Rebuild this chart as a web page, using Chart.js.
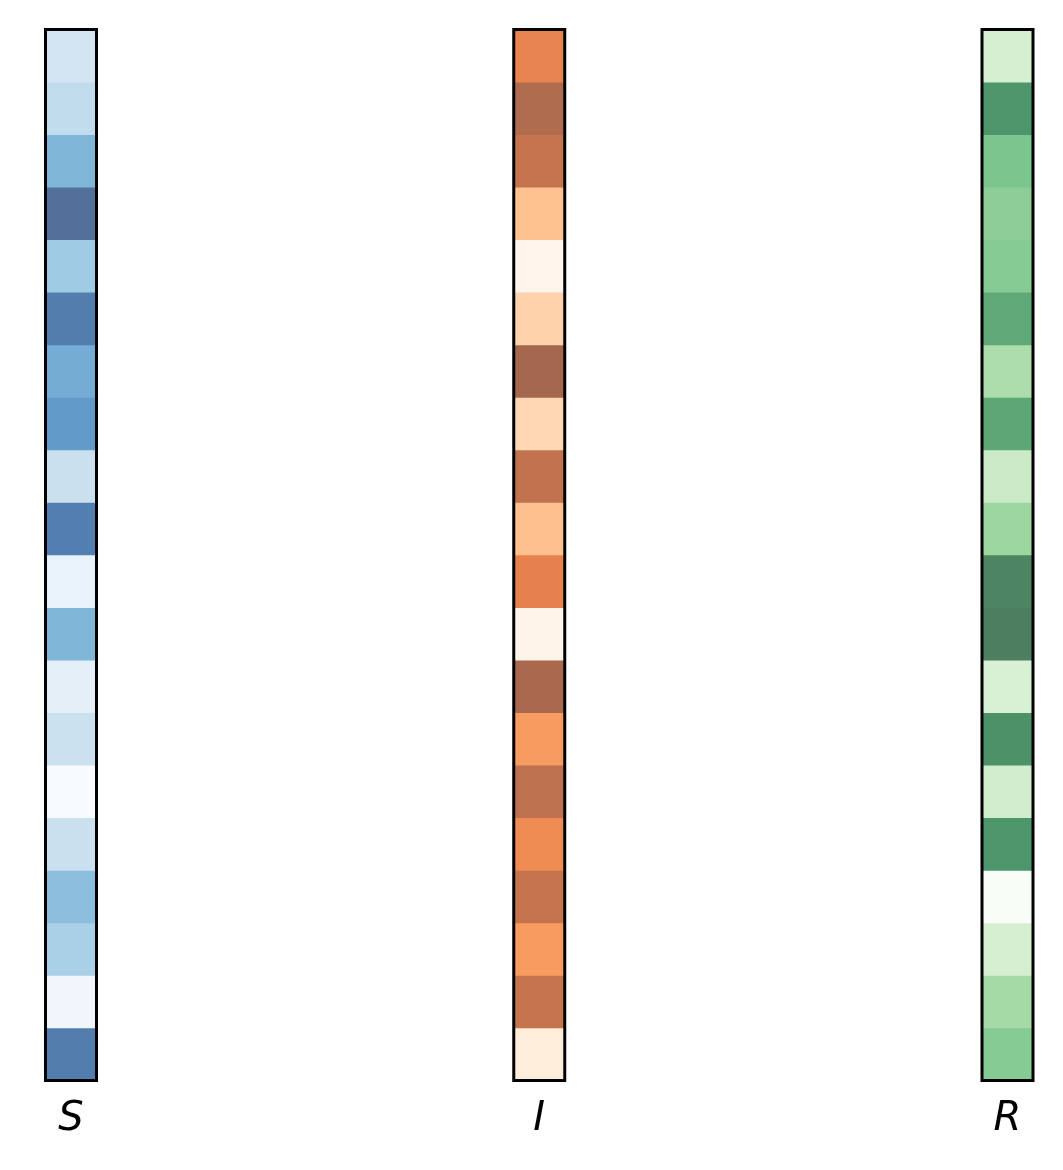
<!DOCTYPE html>
<html>
<head>
<meta charset="utf-8">
<script src="https://cdn.jsdelivr.net/npm/chart.js@4"></script>
<style>
  html, body { margin: 0; padding: 0; background: #ffffff; }
  #wrap { width: 1063px; height: 1170px; position: relative; }
</style>
</head>
<body>
<div id="wrap"><canvas id="c"></canvas></div>
<script>
// ---- data ----
const categories = ['S', 'I', 'R'];
// values in [0, 1], top cell first
const sValues = [0.27, 0.35, 0.60, 0.99, 0.47, 0.92, 0.66, 0.76, 0.31, 0.91,
                 0.12, 0.60, 0.15, 0.30, 0.02, 0.31, 0.55, 0.44, 0.07, 0.92];
const iValues = [0.72, 0.95, 0.86, 0.40, 0.03, 0.31, 1.00, 0.28, 0.875, 0.41,
                 0.74, 0.05, 0.98, 0.60, 0.89, 0.68, 0.86, 0.60, 0.86, 0.13];
const rValues = [0.26, 0.89, 0.62, 0.56, 0.58, 0.78, 0.44, 0.79, 0.31, 0.50,
                 0.96, 0.99, 0.25, 0.91, 0.28, 0.89, 0.01, 0.26, 0.47, 0.58];

// ---- colormaps (matplotlib Blues / Oranges / Greens stops) ----
const BLUES   = ['#f7fbff','#deebf7','#c6dbef','#9ecae1','#6baed6','#4292c6','#2171b5','#08519c','#08306b'];
const ORANGES = ['#fff5eb','#fee6ce','#fdd0a2','#fdae6b','#fd8d3c','#f16913','#d94801','#a63603','#7f2704'];
const GREENS  = ['#f7fcf5','#e5f5e0','#c7e9c0','#a1d99b','#74c476','#41ab5d','#238b45','#006d2c','#00441b'];
const ALPHA = 0.7;

function hexToRgb(h) {
  return [parseInt(h.slice(1,3),16), parseInt(h.slice(3,5),16), parseInt(h.slice(5,7),16)];
}
// colormap lookup, blended at ALPHA over white (opaque result, so no seams)
function cmap(stops, v) {
  v = Math.max(0, Math.min(1, v));
  const n = stops.length - 1;
  const p = v * n;
  const i = Math.min(Math.floor(p), n - 1);
  const t = p - i;
  const a = hexToRgb(stops[i]), b = hexToRgb(stops[i+1]);
  const c = a.map((x, k) => Math.round((x + (b[k] - x) * t) * ALPHA + 255 * (1 - ALPHA)));
  return `rgb(${c[0]},${c[1]},${c[2]})`;
}

const columns = [
  { values: sValues, stops: BLUES },
  { values: iValues, stops: ORANGES },
  { values: rValues, stops: GREENS }
];
const nRows = sValues.length;

// one dataset per row: floating bar [row, row+1] in each column
const datasets = [];
for (let r = 0; r < nRows; r++) {
  datasets.push({
    data: categories.map(() => [r, r + 1]),
    backgroundColor: columns.map(col => cmap(col.stops, col.values[r])),
    borderWidth: 0,
    barThickness: 51,
    grouped: false,
    clip: false
  });
}

const BAR_HALF = 25.5;
const framePlugin = {
  id: 'frame',
  afterDatasetsDraw(chart) {
    const ctx = chart.ctx, xs = chart.scales.x, ys = chart.scales.y;
    const yTop = ys.getPixelForValue(0), yBot = ys.getPixelForValue(nRows);
    ctx.save();
    ctx.strokeStyle = '#000000';
    ctx.lineWidth = 3;
    categories.forEach((c, i) => {
      const xc = xs.getPixelForValue(i);
      ctx.strokeRect(xc - BAR_HALF, yTop, 2 * BAR_HALF, yBot - yTop);
    });
    ctx.restore();
  }
};

new Chart(document.getElementById('c'), {
  type: 'bar',
  data: { labels: categories, datasets },
  options: {
    responsive: true,
    maintainAspectRatio: false,
    animation: false,
    layout: { padding: { left: 71, right: 55.5, top: 29.5, bottom: 0 } },
    plugins: { legend: { display: false }, tooltip: { enabled: false } },
    scales: {
      x: {
        type: 'category',
        offset: false,
        grid: { display: false, drawTicks: false },
        border: { display: false },
        ticks: {
          color: '#000000',
          padding: 15,
          maxRotation: 0,
          font: { family: 'DejaVu Sans', style: 'italic', size: 40 }
        },
        afterFit(s) { s.height = 89.5; }
      },
      y: {
        display: false,
        reverse: true,
        min: 0,
        max: nRows
      }
    }
  },
  plugins: [framePlugin]
});
</script>
</body>
</html>
